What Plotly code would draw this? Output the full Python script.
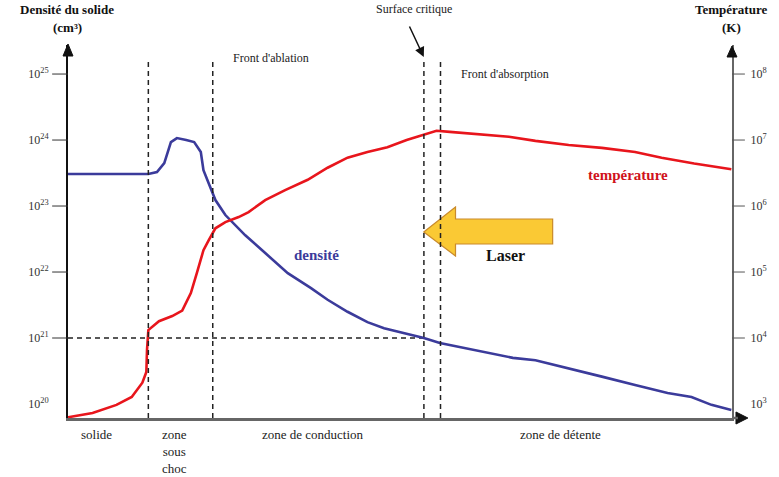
import numpy as np
import plotly.graph_objects as go

# position along the target (0 = left axis, 100 = right axis)
pos_density = [0, 10.7, 12.1, 13.4, 14.5, 15.5, 16.4, 17.8, 19.0, 20.0,
               20.4, 21.2, 22.2, 23.7, 24.5, 26.7, 29.7, 33.1, 36.6, 39.1,
               42.1, 45.1, 47.6, 51.0, 53.6, 56.0, 59.0, 63.0, 67.0, 70.4,
               76.4, 80.4, 85.4, 90.3, 93.9, 96.9, 99.9]
density = [3.05e23, 3.05e23, 3.05e23, 3.27e23, 4.47e23, 9.3e23, 1.07e24, 1.0e24, 9.3e23, 6.6e23,
           3.5e23, 2.2e23, 1.23e23, 7.3e22, 6.1e22, 3.6e22, 1.94e22, 9.6e21, 5.7e21, 3.8e21,
           2.5e21, 1.74e21, 1.41e21, 1.15e21, 1.0e21, 8.4e20, 7.3e20, 5.9e20, 5.0e20, 4.6e20,
           3.3e20, 2.6e20, 1.94e20, 1.47e20, 1.28e20, 9.7e19, 8.1e19]

pos_temp = [0, 3.7, 7.3, 9.6, 11.2, 11.8, 11.9, 12.1, 13.7, 15.7,
            17.2, 18.5, 19.4, 20.4, 21.2, 22.2, 23.7, 25.7, 27.2, 29.7,
            32.7, 36.1, 39.1, 42.1, 45.1, 48.1, 51.0, 53.6, 55.5, 57.5,
            61.5, 66.4, 70.4, 75.4, 80.4, 85.4, 89.4, 94.3, 99.9]
temperature = [6.3e2, 7.3e2, 9.7e2, 1.28e3, 2.1e3, 3.05e3, 6.6e3, 1.32e4, 1.8e4, 2.15e4,
               2.6e4, 4.8e4, 9.6e4, 2.14e5, 3.05e5, 4.6e5, 5.7e5, 6.8e5, 8.1e5, 1.23e6,
               1.74e6, 2.5e6, 3.8e6, 5.4e6, 6.6e6, 7.8e6, 1.0e7, 1.2e7, 1.38e7, 1.33e7,
               1.23e7, 1.12e7, 9.7e6, 8.4e6, 7.6e6, 6.6e6, 5.4e6, 4.4e6, 3.6e6]

# zone boundaries: choc, front d'ablation, surface critique, front d'absorption
boundaries = [12.1, 21.8, 53.6, 56.1]
critical_density = 1e21

density_ticks = [1e20, 1e21, 1e22, 1e23, 1e24, 1e25]
density_ticktext = ["10<sup>20</sup>", "10<sup>21</sup>", "10<sup>22</sup>",
                    "10<sup>23</sup>", "10<sup>24</sup>", "10<sup>25</sup>"]
temp_ticks = [1e3, 1e4, 1e5, 1e6, 1e7, 1e8]
temp_ticktext = ["10<sup>3</sup>", "10<sup>4</sup>", "10<sup>5</sup>",
                 "10<sup>6</sup>", "10<sup>7</sup>", "10<sup>8</sup>"]

zone_labels = ["solide", "zone<br>sous<br>choc", "zone de conduction", "zone de détente"]

W, H = 779, 477
L, R, T, B = 68, 41, 45, 59
PW, PH = W - L - R, H - T - B
SERIF = "Liberation Serif, Times New Roman, serif"
RED = "#E8151C"
BLUE = "#3B3B9B"
YLO, YHI = 19.788, 25.44   # left axis range in decades
SHIFT = 17                 # right axis decades sit 17 below the left ones


def px(x):
    return (x - L) / PW


def py(y):
    return (H - B - y) / PH


def dec(v, offset=0):
    # log value -> paper fraction
    return (np.log10(v) + offset - YLO) / (YHI - YLO)


fig = go.Figure()

fig.add_trace(go.Scatter(
    x=[0, boundaries[2]], y=[critical_density, critical_density], mode="lines",
    line=dict(color="#222", width=1.5, dash="5px,4px"), hoverinfo="skip", showlegend=False,
))
fig.add_trace(go.Scatter(
    x=pos_density, y=density, mode="lines", name="densité",
    line=dict(color=BLUE, width=2.6), showlegend=False, cliponaxis=False,
))
fig.add_trace(go.Scatter(
    x=pos_temp, y=temperature, mode="lines", name="température", yaxis="y2",
    line=dict(color=RED, width=2.6), showlegend=False, cliponaxis=False,
))

shapes = []
# laser arrow
arrow_pts = [(427, 232), (459, 207), (459, 219), (557, 219), (557, 244), (459, 244), (459, 256)]
path = "M " + " L ".join(f"{px(a):.4f},{py(b):.4f}" for a, b in arrow_pts) + " Z"
shapes.append(dict(type="path", xref="paper", yref="paper", path=path,
                   fillcolor="#FAC934", line=dict(color="#C98A2B", width=1.2), layer="above"))
# zone boundaries
for bx in boundaries:
    shapes.append(dict(type="line", xref="x", yref="paper", x0=bx, x1=bx, y0=0, y1=py(59),
                       line=dict(color="#222", width=1.5, dash="5px,4px"), layer="above"))
# tick marks (no mark at the bottom decade)
for v in density_ticks[1:]:
    shapes.append(dict(type="line", xref="paper", yref="paper", x0=px(52), x1=0,
                       y0=dec(v), y1=dec(v), line=dict(color="#333", width=1)))
for v in temp_ticks[1:]:
    shapes.append(dict(type="line", xref="paper", yref="paper", x0=1, x1=px(751),
                       y0=dec(v, SHIFT), y1=dec(v, SHIFT), line=dict(color="#555", width=1)))


# axis arrowheads
def tri(p1, p2, p3, color):
    d = f"M {px(p1[0]):.4f},{py(p1[1]):.4f} L {px(p2[0]):.4f},{py(p2[1]):.4f} L {px(p3[0]):.4f},{py(p3[1]):.4f} Z"
    return dict(type="path", xref="paper", yref="paper", path=d, fillcolor=color,
                line=dict(color=color, width=1), layer="above")


shapes.append(tri((68, 44), (63, 56), (73, 56), "#111"))
shapes.append(tri((738, 46), (733, 57), (743, 57), "#111"))
shapes.append(tri((754, 418), (742, 412), (742, 424), "#111"))
shapes.append(dict(type="line", xref="paper", yref="paper", x0=1, x1=px(744), y0=0, y1=0,
                   line=dict(color="#666", width=2.5)))


def text(x, y, s, size=13, color="#222", bold=False, anchor="center"):
    if bold:
        s = f"<b>{s}</b>"
    return dict(x=px(x), y=py(y), xref="paper", yref="paper", text=s, showarrow=False,
                xanchor=anchor, yanchor="middle",
                font=dict(family=SERIF, size=size, color=color))


annotations = [
    text(67, 10, "Densité du solide", 13, "#111", True),
    text(67, 28, "(cm³)", 13, "#111", True),
    text(737, 10, "Température", 13, "#111", True),
    text(737, 28, "(K)", 13, "#111", True),
    text(417, 9, "Surface critique", 12),
    text(273, 58, "Front d'ablation", 12),
    text(509, 74, "Front d'absorption", 12),
    text(319, 255, "densité", 15, BLUE, True),
    text(633, 175, "température", 15, "#D0121B", True),
    text(509, 256, "Laser", 16, "#111", True),
    text(97, 434, zone_labels[0], 13),
    text(175, 451, zone_labels[1], 13),
    text(315, 434, zone_labels[2], 13),
    text(565, 434, zone_labels[3], 13),
    dict(x=px(427), y=py(57), xref="paper", yref="paper", text="", showarrow=True,
         ax=-15, ay=-32, arrowhead=2, arrowsize=1.3, arrowwidth=1.5, arrowcolor="#111"),
]

fig.update_layout(
    width=W, height=H,
    margin=dict(l=L, r=R, t=T, b=B),
    plot_bgcolor="white", paper_bgcolor="white",
    font=dict(family=SERIF, size=12, color="#333"),
    xaxis=dict(range=[0, 100], showgrid=False, zeroline=False, showticklabels=False,
               ticks="", showline=True, linecolor="#666", linewidth=2.5),
    yaxis=dict(type="log", range=[YLO, YHI], showgrid=False, zeroline=False,
               tickvals=density_ticks, ticktext=density_ticktext, ticks="",
               ticklabelstandoff=15, showline=True, linecolor="#111", linewidth=2,
               tickfont=dict(family=SERIF, size=12, color="#333")),
    yaxis2=dict(type="log", range=[YLO - SHIFT, YHI - SHIFT], overlaying="y", side="right",
                showgrid=False, zeroline=False, tickvals=temp_ticks, ticktext=temp_ticktext,
                ticks="", ticklabelstandoff=14, showline=True, linecolor="#666", linewidth=2,
                tickfont=dict(family=SERIF, size=12, color="#333")),
    shapes=shapes,
    annotations=annotations,
)

fig.write_html("out.html", config={"displayModeBar": False},
               post_script="document.body.style.margin='0';")
